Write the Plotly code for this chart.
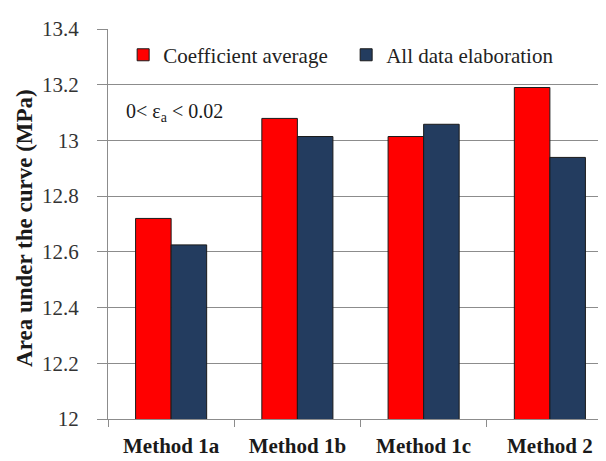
import plotly.graph_objects as go

categories = ["Method 1a", "Method 1b", "Method 1c", "Method 2"]
coef_avg = [12.72, 13.079, 13.014, 13.19]
all_data = [12.625, 13.014, 13.058, 12.939]
series_names = ["Coefficient average", "All data elaboration"]
y_ticks = [12, 12.2, 12.4, 12.6, 12.8, 13, 13.2, 13.4]

SERIF = "Liberation Serif"
REG = "Times New Roman, Liberation Serif, Liberation Sans, serif"

fig = go.Figure()
fig.add_trace(go.Bar(x=categories, y=coef_avg, name=series_names[0],
                     marker=dict(color="#FF0000", line=dict(color="#1a1a1a", width=1))))
fig.add_trace(go.Bar(x=categories, y=all_data, name=series_names[1],
                     marker=dict(color="#233C5F", line=dict(color="#1a1a1a", width=1))))

fig.update_layout(
    width=606, height=461,
    margin=dict(l=100, r=1, t=21, b=50, pad=0),
    paper_bgcolor="white", plot_bgcolor="white",
    barmode="group", bargap=0.437, bargroupgap=0,
    font=dict(family=REG, color="#222"),
    showlegend=True,
    legend=dict(orientation="h", x=0.03, xanchor="left", y=0.933, yanchor="middle",
                font=dict(family=REG, size=21, color="#222"),
                bgcolor="rgba(0,0,0,0)", borderwidth=0,
                entrywidth=178, entrywidthmode="pixels", itemwidth=30,
                traceorder="normal"),
    xaxis=dict(showgrid=False, showline=True, linecolor="#8c8c8c", linewidth=1,
               ticks="outside", tickson="boundaries", ticklen=7, tickcolor="#8c8c8c",
               tickfont=dict(family=SERIF, size=21, color="#1a1a1a", weight="bold"),
               ticklabelstandoff=8),
    yaxis=dict(range=[12, 13.4], tickvals=y_ticks, showgrid=True, gridcolor="#8c8c8c",
               gridwidth=1, showline=True, linecolor="#8c8c8c", linewidth=1,
               ticks="outside", ticklen=10, tickcolor="#8c8c8c",
               tickfont=dict(family=REG, size=21, color="#333"),
               ticklabelstandoff=14, zeroline=False),
    annotations=[
        dict(text="<b>Area under the curve (MPa)</b>", textangle=-90,
             xref="paper", yref="paper", x=(17 - 100) / 505, y=0.49,
             xanchor="center", yanchor="middle", showarrow=False,
             font=dict(family=SERIF, size=23, color="#1a1a1a")),
        dict(text="0< ε<sub>a</sub> < 0.02",
             xref="paper", yref="paper", x=(116 - 100) / 505, y=1 - (104 - 20.7) / 390,
             xanchor="left", yanchor="middle", showarrow=False,
             font=dict(family=REG, size=20, color="#1a1a1a")),
    ],
)

fig.write_html("out.html")
